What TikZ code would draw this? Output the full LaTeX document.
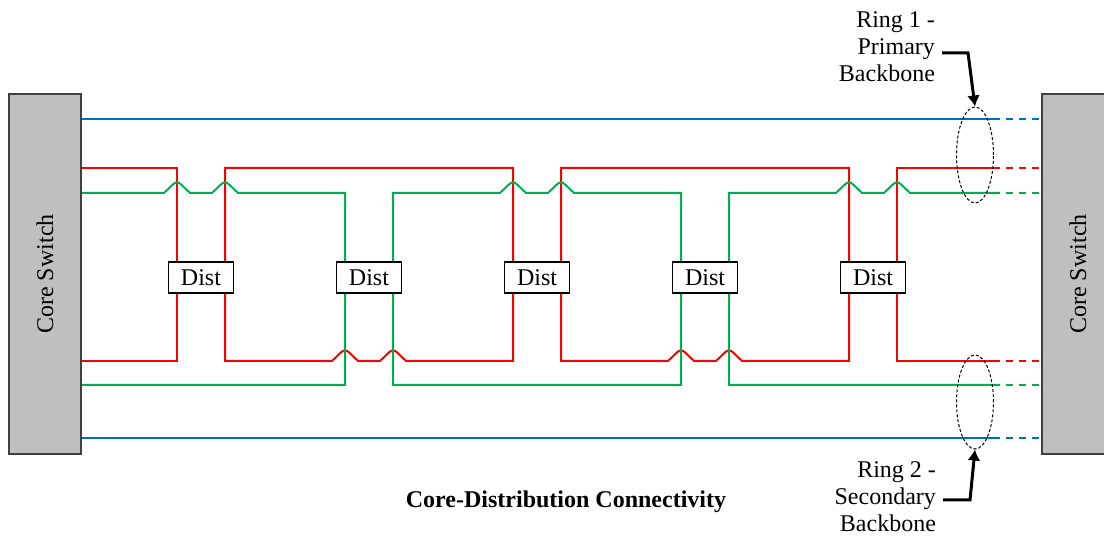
\documentclass[tikz,border=0pt]{standalone}
\usepackage{fontspec}
\setmainfont{Liberation Serif}
\usetikzlibrary{arrows.meta,shapes.geometric,backgrounds}

\definecolor{ringblue}{RGB}{0,112,192}
\definecolor{ringred}{RGB}{255,0,0}
\definecolor{ringgreen}{RGB}{0,176,80}
\definecolor{switchgray}{RGB}{191,191,191}

\begin{document}
\begin{tikzpicture}[
	x=0.5pt, y=-0.5pt,
	font=\fontsize{12}{13.5}\selectfont,
	core/.style={draw=black!75, line width=1pt, fill=switchgray, minimum width=36pt, minimum height=180pt, inner sep=0pt},
	dist/.style={draw, line width=0.75pt, fill=white, minimum width=32.5pt, minimum height=15.5pt, inner sep=0pt},
	wire/.style={line width=1pt},
	tail/.style={line width=1pt, dash pattern=on 3.5pt off 3pt, dash phase=3.5pt},
	ring/.style={ellipse, draw, line width=0.5pt, dash pattern=on 1.5pt off 1pt, minimum width=18.5pt, minimum height=48pt, inner sep=0pt},
	callout/.style={-{Latex[length=5.5pt,width=6.5pt]}, line width=1.5pt},
	hop/.style={insert path={-- ([xshift=-6.5pt]#1) -- ([xshift=-2pt,yshift=4.3pt]#1) .. controls ([xshift=-0.8pt,yshift=5.6pt]#1) and ([xshift=0.8pt,yshift=5.6pt]#1) .. ([xshift=2pt,yshift=4.3pt]#1) -- ([xshift=6.5pt]#1)}}
	]
	\useasboundingbox (0,0) rectangle (1104,539);
	
	%-----------------------
	% Row levels (pixels from top)
	%-----------------------
	\def\yBlueT{119}     % ring 1 blue
	\def\yRedT{168}      % red, upper run
	\def\yGrnT{193}      % green, upper run
	\def\yRedB{361}      % red, lower run
	\def\yGrnB{385}      % green, lower run
	\def\yBlueB{438}     % ring 2 blue
	
	\coordinate (rowBT) at (0,\yBlueT);
	\coordinate (rowRT) at (0,\yRedT);
	\coordinate (rowGT) at (0,\yGrnT);
	\coordinate (rowRB) at (0,\yRedB);
	\coordinate (rowGB) at (0,\yGrnB);
	\coordinate (rowBB) at (0,\yBlueB);
	\coordinate (cut) at (1000,0);
	
	%-----------------------
	% Core switches
	%-----------------------
	\node[core] (coreL) at (45,274) {\rotatebox{90}{Core Switch}};
	\node[core] (coreR) at (1078,274) {\rotatebox{90}{Core Switch}};
	
	%-----------------------
	% Distribution switches
	%-----------------------
	\foreach \i in {1,...,5} {
		\node[dist] (d\i) at ({33+168*\i},277.5) {Dist};
		\coordinate (w\i) at ([xshift=-12pt]d\i.center);
		\coordinate (e\i) at ([xshift=12pt]d\i.center);
	}
	
	%-----------------------
	% Links
	%-----------------------
	\begin{scope}[on background layer]
		% backbone rings
		\draw[wire, ringblue] (coreL.east |- rowBT) -- (cut |- rowBT);
		\draw[wire, ringblue] (coreL.east |- rowBB) -- (cut |- rowBB);
		
		% red loops through Dist 1, 3, 5
		\draw[wire, ringred] (coreL.east |- rowRT) -| (w1 |- rowRB) -- (coreL.east |- rowRB);
		\draw[wire, ringred] (e1 |- rowRB) [hop={w2 |- rowRB}] [hop={e2 |- rowRB}] -- (w3 |- rowRB) -- (w3 |- rowRT) -- (e1 |- rowRT) -- cycle;
		\draw[wire, ringred] (e3 |- rowRB) [hop={w4 |- rowRB}] [hop={e4 |- rowRB}] -- (w5 |- rowRB) -- (w5 |- rowRT) -- (e3 |- rowRT) -- cycle;
		\draw[wire, ringred] (cut |- rowRT) -- (e5 |- rowRT) -- (e5 |- rowRB) -- (cut |- rowRB);
		
		% green loops through Dist 2, 4
		\draw[wire, ringgreen] (coreL.east |- rowGT) [hop={w1 |- rowGT}] [hop={e1 |- rowGT}] -| (w2 |- rowGB) -- (coreL.east |- rowGB);
		\draw[wire, ringgreen] (e2 |- rowGB) -- (e2 |- rowGT) [hop={w3 |- rowGT}] [hop={e3 |- rowGT}] -- (w4 |- rowGT) -- (w4 |- rowGB) -- cycle;
		\draw[wire, ringgreen] (cut |- rowGB) -- (e4 |- rowGB) -- (e4 |- rowGT) [hop={w5 |- rowGT}] [hop={e5 |- rowGT}] -- (cut |- rowGT);
		
		% dashed ends into the right core
		\foreach \r/\c in {rowBT/ringblue, rowRT/ringred, rowGT/ringgreen, rowRB/ringred, rowGB/ringgreen, rowBB/ringblue}
			\draw[tail, \c] (cut |- \r) -- (coreR.west |- \r);
	\end{scope}
	
	%-----------------------
	% Ring markers and labels
	%-----------------------
	\node[ring] (ring1) at (975,155) {};
	\node[ring, minimum height=47pt] (ring2) at (975,402) {};
	
	\node[align=right, anchor=east] (lab1) at (942,47) {Ring 1 -\\Primary\\Backbone};
	\node[align=right, anchor=east] (lab2) at (943,497) {Ring 2 -\\Secondary\\Backbone};
	
	\coordinate (bend1) at (968,53);
	\coordinate (bend2) at (970,500);
	\draw[callout] (lab1.east |- bend1) -- (bend1) -- (ring1.north);
	\draw[callout] (lab2.east |- bend2) -- (bend2) -- (ring2.south);
	
	\node[font=\fontsize{12}{13.5}\selectfont\bfseries] (title) at (566,502) {Core-Distribution Connectivity};
	
\end{tikzpicture}
\end{document}
